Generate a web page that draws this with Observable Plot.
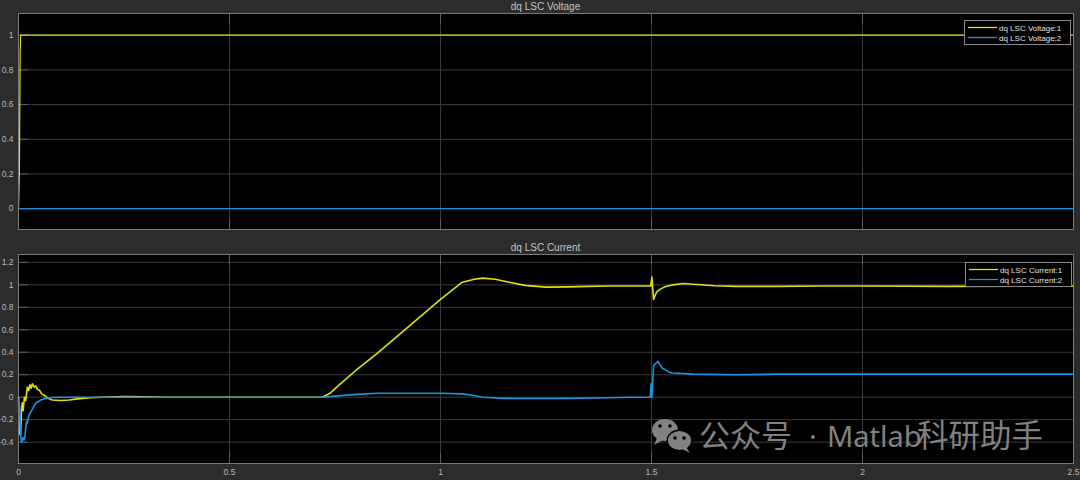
<!DOCTYPE html>
<html>
<head>
<meta charset="utf-8">
<script src="https://cdn.jsdelivr.net/npm/d3@7"></script>
<script src="https://cdn.jsdelivr.net/npm/@observablehq/plot@0.6"></script>
<style>
  html, body { margin: 0; padding: 0; background: #2c2c2c; }
  #root { position: relative; width: 1080px; height: 480px; background: #2c2c2c; overflow: hidden; }
  #root svg.panel { position: absolute; left: 0; }
  #overlay { position: absolute; left: 0; top: 0; pointer-events: none; }
</style>
</head>
<body>
<div id="root"></div>
<script>
// ---------------- data ----------------
const xTicks = [0, 0.5, 1, 1.5, 2, 2.5];
const voltYTicks = [0, 0.2, 0.4, 0.6, 0.8, 1];
const currYTicks = [-0.4, -0.2, 0, 0.2, 0.4, 0.6, 0.8, 1, 1.2];

const panelTitles = ["dq LSC Voltage", "dq LSC Current"];
const voltNames = ["dq LSC Voltage:1", "dq LSC Voltage:2"];
const currNames = ["dq LSC Current:1", "dq LSC Current:2"];

// dq LSC Voltage:1
const volt1Time = [0, 0.002, 0.004, 0.005, 2.5];
const volt1 =     [0, 0.2,   0.9,   1,     1];
// dq LSC Voltage:2
const volt2Time = [0, 2.5];
const volt2 =     [0, 0];

// dq LSC Current:1
const curr1Time = [0, 0.002, 0.005, 0.007, 0.009, 0.011, 0.014, 0.017, 0.021, 0.024, 0.027, 0.030, 0.033, 0.037, 0.041, 0.045, 0.050, 0.055, 0.060, 0.070, 0.080, 0.100, 0.120, 0.140, 0.170, 0.200, 0.250, 0.300, 0.350, 0.720, 0.740, 0.760, 0.800, 0.850, 0.900, 0.950, 1.000, 1.030, 1.050, 1.080, 1.100, 1.130, 1.160, 1.200, 1.250, 1.300, 1.350, 1.400, 1.450, 1.498, 1.501, 1.503, 1.505, 1.509, 1.513, 1.520, 1.530, 1.550, 1.575, 1.600, 1.650, 1.700, 1.800, 1.900, 2.000, 2.200, 2.500];
const curr1 =     [0, -0.33, -0.33, -0.12, -0.05, -0.12, 0.00,  -0.03, 0.09,  0.06,  0.11,  0.08,  0.12,  0.09,  0.10,  0.07,  0.06,  0.03,  0.02,  -0.01, -0.025, -0.03, -0.025, -0.015, -0.005, 0.0,  0.005, 0.003, 0.0,   0.0,   0.04,  0.11,  0.24,  0.39,  0.55,  0.71,  0.87,  0.96,  1.02,  1.05,  1.06,  1.05,  1.025, 0.995, 0.98,  0.982, 0.986, 0.99,  0.99,  0.99,  1.07,  0.96,  0.87,  0.91,  0.94,  0.96,  0.98,  1.0,   1.012, 1.005, 0.992, 0.986, 0.986, 0.99,  0.99,  0.986, 0.99];
// dq LSC Current:2
const curr2Time = [0, 0.003, 0.005, 0.007, 0.009, 0.011, 0.013, 0.015, 0.017, 0.019, 0.021, 0.023, 0.026, 0.028, 0.031, 0.034, 0.038, 0.042, 0.047, 0.052, 0.060, 0.075, 0.090, 0.720, 0.750, 0.800, 0.850, 0.900, 0.950, 1.000, 1.050, 1.080, 1.100, 1.150, 1.200, 1.300, 1.400, 1.450, 1.497, 1.499, 1.501, 1.505, 1.510, 1.515, 1.520, 1.525, 1.530, 1.540, 1.550, 1.600, 1.700, 1.800, 2.000, 2.500];
const curr2 =     [0, -0.1,  -0.33, -0.40, -0.38, -0.36, -0.38, -0.36, -0.28, -0.22, -0.23, -0.19, -0.15, -0.14, -0.12, -0.10, -0.07, -0.05, -0.04, -0.025, -0.015, -0.005, 0.0, 0.0,   0.01,  0.025, 0.035, 0.035, 0.035, 0.035, 0.03,  0.015, 0.0,   -0.01, -0.012, -0.01, -0.005, 0.0,  0.0,   0.12,  0.0,   0.28,  0.30,  0.32,  0.29,  0.26,  0.25,  0.225, 0.215, 0.205, 0.2,   0.205, 0.205, 0.205];

// ---------------- style ----------------
const YELLOW = "#e0e012";
const BLUE = "#1a94e0";
const GRID = "#3b3b3b";
const FRAME = "#7a7a7a";
const TICK = "#5e5e5e";
const TEXT = "#b8b8b8";
const FONT = "'Liberation Sans', Arial, Helvetica, sans-serif";

const toRows = (t, v) => t.map((x, i) => ({t: x, v: v[i]}));

function panel({height, marginTop, marginBottom, yDomain, yTicks, series, xLabels}) {
  return Plot.plot({
    width: 1080,
    height,
    marginLeft: 18,
    marginRight: 7,
    marginTop,
    marginBottom,
    style: {background: "transparent", color: TEXT, fontFamily: FONT, fontSize: "8.5px", overflow: "visible"},
    x: {domain: [0, 2.5], label: null},
    y: {domain: yDomain, label: null},
    marks: [
      Plot.frame({fill: "#000", stroke: null}),
      Plot.gridX(xTicks, {stroke: GRID, strokeOpacity: 1}),
      Plot.gridY(yTicks, {stroke: GRID, strokeOpacity: 1}),
      Plot.axisY(yTicks, {anchor: "left", tickSize: 10, dx: 10, fill: "none", stroke: TICK, label: null}),
      Plot.axisX(xTicks, {anchor: "bottom", tickSize: 10, dy: -10, fill: "none", stroke: TICK, label: null}),
      Plot.axisX(xTicks, {anchor: "top", tickSize: 10, dy: 10, fill: "none", stroke: TICK, label: null}),
      Plot.axisY(yTicks, {anchor: "left", tickSize: 0, tickPadding: 5, tickFormat: d => String(d), fill: TEXT, label: null}),
      xLabels ? Plot.axisX(xTicks, {anchor: "bottom", tickSize: 0, tickPadding: 5, tickFormat: d => String(d), fill: TEXT, label: null}) : null,
      ...series.map(s => Plot.line(toRows(s.t, s.v), {x: "t", y: "v", stroke: s.color, strokeWidth: s.width, curve: "linear"})),
      Plot.frame({stroke: FRAME, fill: "none"})
    ]
  });
}

const root = document.getElementById("root");

const topPanel = panel({
  height: 240, marginTop: 13, marginBottom: 11,
  yDomain: [-0.12, 1.125], yTicks: voltYTicks, xLabels: false,
  series: [
    {t: volt1Time, v: volt1, color: YELLOW, width: 1.2},
    {t: volt2Time, v: volt2, color: BLUE, width: 1.2}
  ]
});
topPanel.classList.add("panel");
topPanel.style.top = "0px";
root.appendChild(topPanel);

const bottomPanel = panel({
  height: 240, marginTop: 14, marginBottom: 17,
  yDomain: [-0.59, 1.27], yTicks: currYTicks, xLabels: true,
  series: [
    {t: curr1Time, v: curr1, color: YELLOW, width: 1.6},
    {t: curr2Time, v: curr2, color: BLUE, width: 1.6}
  ]
});
bottomPanel.classList.add("panel");
bottomPanel.style.top = "240px";
root.appendChild(bottomPanel);

// ---------------- overlay: titles, legends, watermark ----------------
const ov = d3.select(root).append("svg").attr("id", "overlay").attr("width", 1080).attr("height", 480);

// titles
ov.append("text").attr("x", 545.5).attr("y", 9.5).attr("text-anchor", "middle")
  .attr("font-family", FONT).attr("font-size", 10).attr("fill", "#c4c4c4").text(panelTitles[0]);
ov.append("text").attr("x", 545.5).attr("y", 250.5).attr("text-anchor", "middle")
  .attr("font-family", FONT).attr("font-size", 10).attr("fill", "#c4c4c4").text(panelTitles[1]);

function legend(x, y, w, h, names, rowY) {
  const g = ov.append("g");
  g.append("rect").attr("x", x + 0.5).attr("y", y + 0.5).attr("width", w).attr("height", h)
    .attr("fill", "#000").attr("stroke", "#8a8a8a").attr("stroke-width", 1);
  [YELLOW, BLUE].forEach((c, i) => {
    g.append("line").attr("x1", x + 4).attr("x2", x + 33).attr("y1", rowY[i]).attr("y2", rowY[i])
      .attr("stroke", c).attr("stroke-width", 1.3);
    g.append("text").attr("x", x + 35).attr("y", rowY[i] + 3).attr("font-family", FONT)
      .attr("font-size", 8).attr("fill", "#e2e2e2").text(names[i]);
  });
}
legend(964, 20, 106, 24, voltNames, [27.5, 37.5]);
legend(965, 262, 106, 24, currNames, [269.5, 279.5]);

// watermark
const wm = ov.append("g").attr("opacity", 0.92);
const icon = wm.append("g");
icon.append("ellipse").attr("cx", 665).attr("cy", 430).attr("rx", 13).attr("ry", 11).attr("fill", "#8c8c8c");
icon.append("path").attr("d", "M657,438 L654,445 L663,440 Z").attr("fill", "#8c8c8c");
icon.append("ellipse").attr("cx", 679.5).attr("cy", 440.5).attr("rx", 13).attr("ry", 11).attr("fill", "#000");
icon.append("ellipse").attr("cx", 679.5).attr("cy", 440.5).attr("rx", 11.5).attr("ry", 9.5).attr("fill", "#8c8c8c");
icon.append("path").attr("d", "M686,447 L690,453 L682,449 Z").attr("fill", "#8c8c8c");
[[660, 426], [670, 426], [675, 438], [684, 438]].forEach(([cx, cy]) =>
  icon.append("circle").attr("cx", cx).attr("cy", cy).attr("r", 1.8).attr("fill", "#000"));

const CJK = "'Noto Sans CJK SC', 'Noto Sans', sans-serif";
const wmText = wm.append("text").attr("y", 446.5).attr("fill", "#8c8c8c").attr("font-family", CJK);
wmText.append("tspan").attr("x", 699).attr("font-size", 31).text("公众号");
wmText.append("tspan").attr("x", 827).attr("font-size", 29).attr("font-family", "'Noto Sans', sans-serif").text("Matlab");
wmText.append("tspan").attr("x", 917).attr("font-size", 31.5).text("科研助手");
wm.append("text").attr("x", 813).attr("y", 446.5).attr("text-anchor", "middle").attr("fill", "#8c8c8c")
  .attr("font-family", "'Noto Sans', 'DejaVu Sans', sans-serif").attr("font-size", 29).text("·");
</script>
</body>
</html>
